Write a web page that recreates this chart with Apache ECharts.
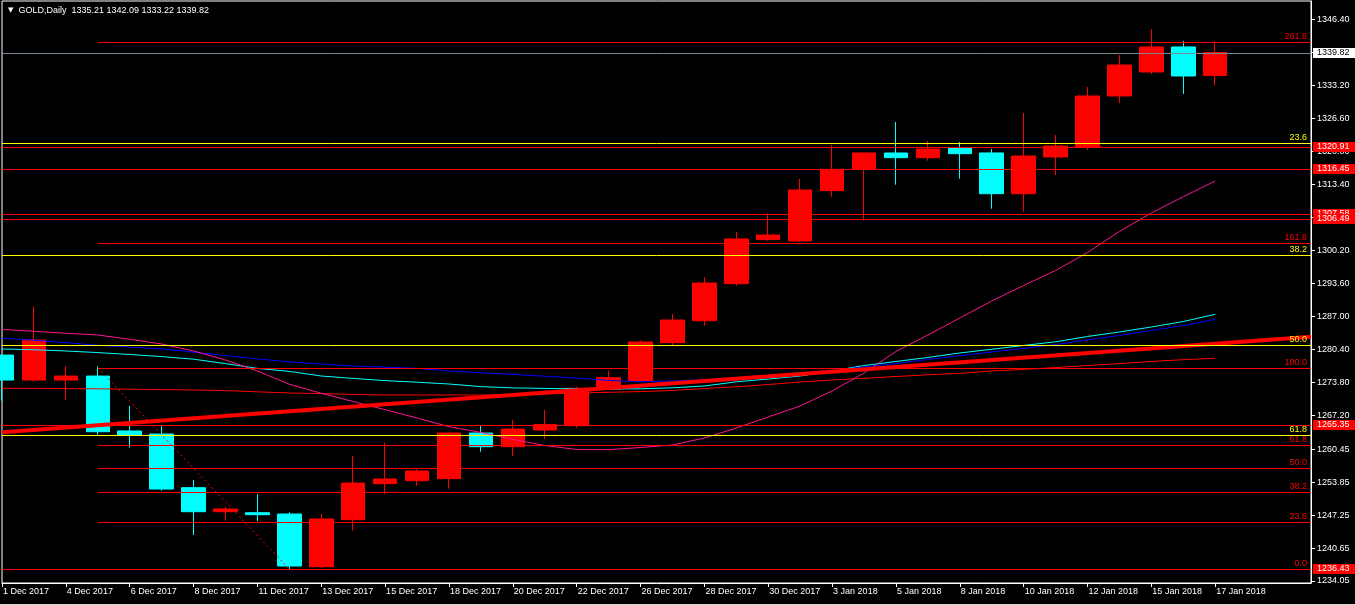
<!DOCTYPE html>
<html><head><meta charset="utf-8">
<script src="https://cdn.jsdelivr.net/npm/echarts@6/dist/echarts.min.js"></script>
<style>html,body{margin:0;padding:0;background:#000;overflow:hidden}#c{width:1355px;height:604px}#s{width:1355px;height:1px;background:#d4d4d4}</style>
</head><body><div id="c"></div><div id="s"></div>
<script>
// ---- data ----
const dates = ['1 Dec 2017','3 Dec 2017','4 Dec 2017','5 Dec 2017','6 Dec 2017','7 Dec 2017','8 Dec 2017','10 Dec 2017','11 Dec 2017','12 Dec 2017','13 Dec 2017','14 Dec 2017','15 Dec 2017','17 Dec 2017','18 Dec 2017','19 Dec 2017','20 Dec 2017','21 Dec 2017','22 Dec 2017','24 Dec 2017','26 Dec 2017','27 Dec 2017','28 Dec 2017','29 Dec 2017','30 Dec 2017','2 Jan 2018','3 Jan 2018','4 Jan 2018','5 Jan 2018','7 Jan 2018','8 Jan 2018','9 Jan 2018','10 Jan 2018','11 Jan 2018','12 Jan 2018','14 Jan 2018','15 Jan 2018','16 Jan 2018','17 Jan 2018'];
const opens  = [1279.27,1274.27,1274.27,1275.07,1264.08,1263.47,1252.73,1247.92,1247.72,1247.46,1236.91,1246.32,1253.53,1254.13,1254.53,1263.67,1260.93,1264.27,1265.13,1272.42,1274.08,1281.75,1286.15,1293.56,1302.37,1302.11,1312.18,1316.45,1319.72,1318.78,1320.72,1319.72,1311.57,1318.92,1320.92,1331.13,1335.93,1340.94,1335.21];
const closes = [1274.27,1282.29,1275.07,1263.93,1263.27,1252.46,1247.92,1248.46,1247.32,1237.05,1246.46,1253.66,1254.46,1256.07,1263.67,1260.93,1264.47,1265.35,1272.62,1274.74,1281.89,1286.29,1293.70,1302.51,1303.31,1312.31,1316.45,1319.72,1318.78,1320.52,1319.58,1311.57,1319.12,1321.12,1331.13,1337.33,1340.94,1335.13,1339.82];
const lows   = [1270.10,1273.90,1270.30,1263.27,1260.73,1252.13,1243.26,1246.12,1246.06,1236.43,1236.60,1244.12,1251.46,1253.07,1252.53,1259.93,1259.07,1262.47,1264.73,1272.30,1273.90,1281.29,1285.15,1293.16,1302.17,1301.90,1310.97,1306.20,1313.37,1318.18,1314.57,1308.57,1307.97,1315.31,1320.32,1329.73,1335.53,1331.53,1333.22];
const highs  = [1279.30,1289.00,1277.08,1277.00,1269.08,1265.27,1254.26,1248.92,1251.46,1247.80,1247.46,1259.07,1261.73,1256.41,1263.80,1265.27,1266.27,1268.27,1272.94,1276.14,1282.15,1287.49,1294.90,1303.91,1307.58,1314.51,1321.32,1319.80,1325.92,1322.12,1321.92,1320.52,1327.73,1323.32,1332.93,1339.33,1344.54,1342.14,1342.09];
const maPink = [1284.41,1284.03,1283.63,1283.29,1282.43,1281.49,1280.09,1278.29,1276.08,1273.44,1271.62,1269.98,1268.34,1266.68,1264.93,1263.79,1262.41,1261.17,1260.37,1260.33,1260.77,1261.27,1262.67,1264.67,1266.88,1269.08,1272.08,1275.68,1279.99,1283.29,1286.69,1290.10,1293.20,1296.20,1299.80,1304.01,1307.71,1310.97,1314.11];
const maBlue = [1282.63,1282.25,1281.75,1281.23,1280.87,1280.49,1279.85,1279.17,1278.51,1277.91,1277.48,1277.08,1276.86,1276.61,1276.08,1275.72,1275.40,1275.04,1274.66,1274.20,1273.94,1274.08,1274.34,1274.62,1275.08,1275.68,1276.22,1276.88,1277.59,1278.39,1279.13,1279.89,1280.63,1281.39,1282.29,1283.19,1284.19,1285.19,1286.43];
const maCyan = [1280.49,1280.33,1280.09,1279.77,1279.39,1278.97,1278.45,1277.56,1276.61,1276.00,1275.08,1274.60,1274.16,1273.84,1273.48,1272.96,1272.70,1272.60,1272.52,1272.48,1272.52,1272.72,1273.08,1273.92,1274.48,1275.08,1276.08,1277.18,1277.99,1278.79,1279.69,1280.43,1281.19,1281.93,1282.99,1283.89,1284.89,1285.99,1287.43];
const maRed  = [1272.62,1272.60,1272.56,1272.52,1272.44,1272.36,1272.28,1272.16,1271.92,1271.68,1271.56,1271.40,1271.28,1271.28,1271.28,1271.28,1271.32,1271.48,1271.68,1271.82,1271.96,1272.18,1272.58,1272.92,1273.38,1273.88,1274.28,1274.62,1274.98,1275.32,1275.62,1276.08,1276.40,1276.78,1277.18,1277.56,1277.99,1278.35,1278.63];
const yTicks = [1346.40,1339.80,1333.20,1326.60,1320.00,1313.40,1306.80,1300.20,1293.60,1287.00,1280.40,1273.80,1267.20,1260.45,1253.85,1247.25,1240.65,1234.05];
const priceLines = [1320.91,1316.45,1307.58,1306.49,1265.35,1236.43];
const fibLevels = [0,23.6,38.2,50,61.8,100,161.8,261.8];
const fibFromIdx = 3, fibToIdx = 9, fibHigh = 1276.73, fibLow = 1236.43;
const fib2Levels = [23.6,38.2,50.0,61.8];
const fib2Top = 1357.70, fib2Bottom = 1205.00;
const trendStart = [0,1263.81], trendEnd = [41,1282.95];
const symbolName = 'GOLD,Daily';

// ---- chart ----
const RIGHT_PAD = 3;
const RED = '#FF0000', CYAN = '#00FFFF', YEL = '#FFFF00';
const FONT = 'Liberation Sans';
const FONT_CSS = '9px "Liberation Sans"';
const N = dates.length, last = N - 1;
const XMAX = N - 1 + RIGHT_PAD;
const axisCats = dates.concat(new Array(RIGHT_PAD).fill(''));
const candles = dates.map((d,i)=>[opens[i],closes[i],lows[i],highs[i]]);

// horizontal levels (drawn crisp through a custom series)
const levelDefs = [];
fib2Levels.forEach(p=>levelDefs.push({from:0, value:fib2Top - (fib2Top - fib2Bottom) * p / 100, color:YEL, tag:p.toFixed(1)}));
fibLevels.forEach(p=>levelDefs.push({from:fibFromIdx, value:fibLow + (fibHigh - fibLow) * p / 100, color:RED, tag:p.toFixed(1)}));
levelDefs.push({from:0, value:closes[last], color:'#778899', box:{bg:'#FFFFFF', fg:'#000000'}});
priceLines.forEach(v=>levelDefs.push({from:0, value:v, color:RED, box:{bg:RED, fg:'#FFFFFF'}}));

function renderLevel(params, api){
  const d = levelDefs[params.dataIndex];
  const cs = params.coordSys;
  const p = api.coord([api.value(0), api.value(1)]);
  const yc = Math.round(p[1]);
  const y = yc + 0.5;
  const xs = Math.round(p[0]);
  const xe = cs.x + cs.width;
  const children = [{type:'line', shape:{x1:xs, y1:y, x2:xe, y2:y}, style:{stroke:d.color, lineWidth:1}, silent:true}];
  if (d.tag) {
    children.push({type:'text', silent:true, style:{text:d.tag, x:xe - 4, y:yc - 1, align:'right', verticalAlign:'bottom', fill:d.color, font:FONT_CSS}});
  }
  if (d.box) {
    children.push({type:'rect', silent:true, shape:{x:xe + 2, y:yc - 5, width:50, height:10}, style:{fill:d.box.bg}});
    children.push({type:'text', silent:true, style:{text:d.value.toFixed(2), x:xe + 6, y:yc, align:'left', verticalAlign:'middle', fill:d.box.fg, font:FONT_CSS}});
  }
  return {type:'group', children:children};
}

const showEven = (i)=> i % 2 === 0 && i < N;

const option = {
  backgroundColor:'#000000',
  animation:false,
  title:{
    left:3, top:1,
    text:'{t|▼}  ' + symbolName + '  ' + opens[last].toFixed(2) + ' ' + highs[last].toFixed(2) + ' ' + lows[last].toFixed(2) + ' ' + closes[last].toFixed(2),
    textStyle:{color:'#FFFFFF', fontSize:9, fontWeight:'normal', fontFamily:FONT,
      rich:{t:{fontSize:7, color:'#FFFFFF', fontFamily:'DejaVu Sans'}}}
  },
  grid:{left:0, right:44, top:1, bottom:21, show:true, borderColor:'#FFFFFF', borderWidth:1, backgroundColor:'transparent', containLabel:false},
  xAxis:{
    type:'category', data:axisCats, boundaryGap:false,
    axisLine:{show:true, lineStyle:{color:'#FFFFFF', width:1}},
    axisTick:{show:true, interval:(i)=>showEven(i), length:4, lineStyle:{color:'#FFFFFF'}},
    axisLabel:{show:true, interval:(i)=>showEven(i), align:'left', color:'#FFFFFF', fontSize:9, fontFamily:FONT, margin:4, padding:[0,0,0,1]},
    splitLine:{show:false}
  },
  yAxis:{
    type:'value', position:'right', min:1233.65, max:1350.14, scale:true,
    axisLine:{show:true, lineStyle:{color:'#FFFFFF', width:1}},
    axisTick:{show:true, customValues:yTicks, length:4, lineStyle:{color:'#FFFFFF'}},
    axisLabel:{show:true, customValues:yTicks, formatter:(v)=>Number(v).toFixed(2), color:'#FFFFFF', fontSize:9, fontFamily:FONT, margin:6},
    splitLine:{show:false}
  },
  series:[
    {type:'candlestick', data:candles, barWidth:24, z:1, silent:true, clip:true,
     itemStyle:{color:RED, color0:CYAN, borderColor:RED, borderColor0:CYAN, borderWidth:1}},
    {type:'line', data:maRed, showSymbol:false, symbol:'none', z:3, silent:true, lineStyle:{color:RED, width:1}},
    {type:'line', data:maCyan, showSymbol:false, symbol:'none', z:3, silent:true, lineStyle:{color:CYAN, width:1}},
    {type:'line', data:maBlue, showSymbol:false, symbol:'none', z:3, silent:true, lineStyle:{color:'#0000FF', width:1}},
    {type:'line', data:maPink, showSymbol:false, symbol:'none', z:4, silent:true, lineStyle:{color:'#FF1493', width:1}},
    {type:'line', data:[], z:5, silent:true,
     markLine:{silent:true, symbol:['none','none'], animation:false, emphasis:{disabled:true}, data:[
       [{coord:[fibFromIdx, fibHigh], lineStyle:{color:RED, width:1, type:[2,3]}, label:{show:false}}, {coord:[fibToIdx, fibLow]}],
       [{coord:trendStart, lineStyle:{color:RED, width:4, type:'solid'}, label:{show:false}}, {coord:trendEnd}]
     ]}},
    {type:'custom', z:6, silent:true, clip:false, renderItem:renderLevel,
     data:levelDefs.map(d=>[d.from, d.value]), encode:{x:0, y:1}}
  ]
};
const chart = echarts.init(document.getElementById('c'));
chart.setOption(option);
</script>
</body></html>
